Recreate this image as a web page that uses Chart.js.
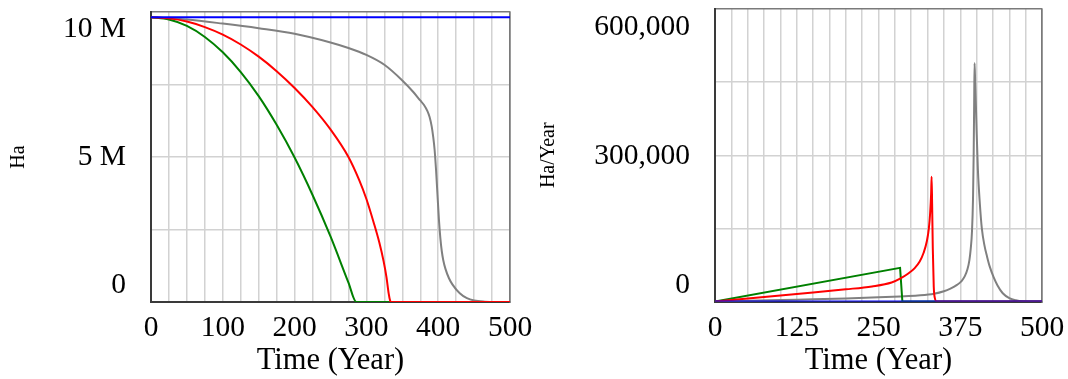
<!DOCTYPE html>
<html>
<head>
<meta charset="utf-8">
<script src="https://cdn.jsdelivr.net/npm/chart.js@4.4.0/dist/chart.umd.min.js"></script>
<style>
  body { margin: 0; background: #fff; }
  #wrap { position: relative; width: 1068px; height: 379px; }
  canvas { position: absolute; top: 0; }
  #stock { left: 0; }
  #flow { left: 530px; }
</style>
</head>
<body>
<div id="wrap">
  <canvas id="stock" width="545" height="379"></canvas>
  <canvas id="flow" width="538" height="379"></canvas>
</div>
<script>
// forest area, million Ha
const areaBlueT = [0, 500];
const areaBlueV = [9.82, 9.82];
const areaRedT = [0, 25, 50, 75, 100, 125, 150, 175, 200, 225, 250, 275, 290, 300, 310, 318, 324, 328, 331, 333, 334, 500];
const areaRedV = [9.82, 9.78, 9.67, 9.48, 9.22, 8.88, 8.46, 7.96, 7.38, 6.72, 5.95, 5.00, 4.20, 3.55, 2.75, 2.05, 1.40, 0.85, 0.30, 0.05, 0, 0];
const areaGreenT = [0, 25, 50, 75, 100, 125, 150, 175, 200, 225, 250, 275, 286, 500];
const areaGreenV = [9.82, 9.74, 9.52, 9.14, 8.61, 7.93, 7.10, 6.11, 4.98, 3.69, 2.26, 0.67, 0, 0];
const areaGrayT = [0, 50, 100, 150, 200, 250, 275, 300, 325, 350, 365, 375, 380, 385, 388, 391, 393, 395, 397, 399, 401, 403, 405, 407, 410, 415, 420, 430, 440, 450, 465, 480, 500];
const areaGrayV = [9.82, 9.74, 9.60, 9.44, 9.25, 8.95, 8.76, 8.52, 8.18, 7.64, 7.25, 6.95, 6.80, 6.58, 6.38, 6.05, 5.70, 5.25, 4.55, 3.70, 2.85, 2.20, 1.75, 1.45, 1.15, 0.82, 0.60, 0.30, 0.13, 0.05, 0.01, 0, 0];

// clearing rate, Ha/Year
const rateBlueT = [0, 500];
const rateBlueV = [0, 0];
const rateRedT = [0, 50, 100, 150, 200, 240, 270, 283, 295, 305, 313, 319, 324, 327, 329, 330.5, 331.2, 332, 333, 334.5, 336, 339, 500];
const rateRedV = [0, 6000, 12500, 18500, 25000, 31000, 39000, 47000, 57000, 68000, 82000, 100000, 124000, 150000, 182000, 222000, 256000, 200000, 110000, 30000, 8000, 0, 0];
const rateGreenT = [0, 283, 286.5, 500];
const rateGreenV = [0, 69000, 0, 0];
const rateGrayT = [0, 50, 100, 150, 200, 250, 283, 310, 335, 350, 360, 370, 377, 382, 386, 389, 391, 393, 394.5, 395.5, 396.3, 396.9, 398, 399, 400, 402, 405, 408, 412, 416, 420, 426, 432, 440, 450, 460, 470, 500];
const rateGrayV = [0, 1500, 3000, 4500, 6000, 8500, 10500, 12500, 16000, 21000, 26500, 34000, 42000, 52000, 66000, 85000, 108000, 145000, 210000, 300000, 410000, 489000, 440000, 400000, 350000, 270000, 200000, 150000, 115000, 92000, 72000, 50000, 33000, 17000, 7000, 2500, 500, 0];

// axis ticks
const areaGridStep = 2.5;
const areaTickLabels = [0, 5, 10];
const rateGridStep = 150000;
const rateTickLabels = [0, 300000, 600000];

Chart.defaults.font.family = "'Liberation Serif', 'Times New Roman', serif";
Chart.defaults.color = '#000';

const GRID = '#d2d2d2';
const EDGE = '#7a7a7a';
const AXIS = '#3a3a3a';

function series(t, v, color, straight) {
  return {
    data: t.map((x, i) => ({ x, y: v[i] })),
    borderColor: color,
    borderWidth: 2,
    pointRadius: 0,
    tension: 0,
    cubicInterpolationMode: straight ? 'default' : 'monotone',
    yAxisID: 'y'
  };
}

function buildChart(id, cfg) {
  return new Chart(document.getElementById(id), {
    type: 'line',
    data: { datasets: cfg.datasets },
    options: {
      responsive: false,
      animation: false,
      devicePixelRatio: 1,
      layout: { padding: cfg.padding },
      plugins: { legend: { display: false }, tooltip: { enabled: false } },
      scales: {
        x: {
          type: 'linear', min: 0, max: 500,
          border: { color: AXIS, width: 2 },
          grid: {
            drawTicks: false, lineWidth: 1.5,
            color: c => c.tick.value === 0 ? 'rgba(0,0,0,0)' : c.tick.value === 500 ? EDGE : GRID
          },
          ticks: {
            stepSize: 25, autoSkip: false, maxRotation: 0, padding: 9,
            font: { size: 29.5 },
            callback: v => v % cfg.xLabelStep === 0 ? String(v) : ''
          },
          title: { display: true, text: 'Time (Year)', font: { size: 30.5 }, padding: { top: 0, bottom: 0 } },
          afterFit: s => { s.height = cfg.xHeight; s.paddingLeft = 0; s.paddingRight = 0; }
        },
        y: {
          position: 'right', min: 0, max: cfg.yMax,
          border: { color: EDGE, width: 1.5 },
          grid: {
            drawTicks: false, lineWidth: 1.5,
            color: c => c.tick.value === 0 ? 'rgba(0,0,0,0)' : c.tick.value === cfg.yMax ? EDGE : GRID
          },
          ticks: { display: false, stepSize: cfg.yGrid },
          afterFit: s => { s.width = 0; }
        },
        yl: {
          position: 'left', min: cfg.labelMin, max: cfg.labelMax,
          border: { color: AXIS, width: 2 },
          grid: { display: false, drawTicks: false },
          ticks: { padding: 25, font: { size: 29.5 }, callback: cfg.yFormat },
          afterBuildTicks: s => { s.ticks = cfg.yLabels.map(v => ({ value: v })); },
          title: { display: true, text: cfg.yTitle, font: { size: 20 }, padding: { top: 7, bottom: 0 } },
          afterFit: s => { s.width = cfg.plotLeft; s.paddingTop = 0; s.paddingBottom = 0; }
        }
      }
    }
  });
}

buildChart('stock', {
  datasets: [
    series(areaBlueT, areaBlueV, '#0000ff'),
    series(areaRedT, areaRedV, '#ff0000'),
    series(areaGreenT, areaGreenV, '#008000'),
    series(areaGrayT, areaGrayV, '#808080')
  ],
  padding: { left: 0, top: 12, right: 35, bottom: 0 },
  xHeight: 77, xLabelStep: 100,
  yMax: 10, yGrid: areaGridStep,
  labelMin: -0.654, labelMax: 10.693, yLabels: areaTickLabels,
  yFormat: v => v === 0 ? '0' : v + ' M',
  yTitle: 'Ha', plotLeft: 151
});

buildChart('flow', {
  datasets: [
    series(rateBlueT, rateBlueV, '#0000ff'),
    series(rateRedT, rateRedV, '#ff0000'),
    series(rateGreenT, rateGreenV, '#008000', true),
    series(rateGrayT, rateGrayV, '#808080')
  ],
  padding: { left: 0, top: 9, right: 26, bottom: 0 },
  xHeight: 77.5, xLabelStep: 125,
  yMax: 600000, yGrid: rateGridStep,
  labelMin: -37000, labelMax: 643000, yLabels: rateTickLabels,
  yFormat: v => v.toLocaleString('en-US'),
  yTitle: 'Ha/Year', plotLeft: 185
});
</script>
</body>
</html>
